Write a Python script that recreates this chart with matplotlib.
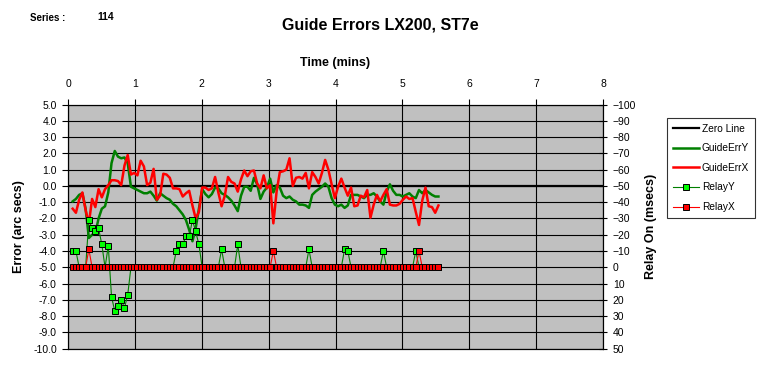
import numpy as np
import matplotlib
matplotlib.use('Agg')
from matplotlib import pyplot as plt

plt.rcParams['font.family'] = ['Liberation Sans', 'DejaVu Sans']

# sample clock (mins)
t_start = 0.07
t_step = 0.0484
n_samples = 114
t = t_start + t_step * np.arange(n_samples)

guide_err_y = [
    -0.95, -0.8, -0.55, -0.45, -1.4, -3.2, -3.0, -2.9, -2.0, -1.4,
    -1.25, -0.4, 1.4, 2.15, 1.8, 1.7, 1.75, 1.4, -0.05, -0.15,
    -0.25, -0.35, -0.45, -0.45, -0.35, -0.6, -0.9, -0.45, -0.6, -0.75,
    -0.85, -1.1, -1.25, -1.5, -1.75, -2.1, -2.7, -3.4, -2.6, -1.4,
    -0.2, -0.5, -0.7, -0.5, -0.1, -0.15, -0.45, -0.55, -0.7, -0.9,
    -1.2, -1.55, -0.6, -0.05, -0.05, -0.3, 0.5, 0.1, -0.8, -0.35,
    -0.1, 0.45, -0.4, 0.05, -0.1, -0.6, -0.75, -0.65, -0.85, -0.95,
    -1.15, -1.15, -1.2, -1.35, -0.55, -0.35, -0.2, -0.05, 0.15, -0.05,
    -0.75, -1.15, -1.25, -1.15, -1.35, -1.2, -0.55, -0.55, -0.55, -0.65,
    -0.75, -0.55, -0.55, -0.45, -0.65, -0.95, -1.15, -0.35, 0.1, -0.3,
    -0.55, -0.55, -0.65, -0.55, -0.45, -0.65, -0.75, -0.25, -0.45, -0.25,
    -0.4, -0.55, -0.65, -0.65,
]

guide_err_x = [
    -1.4, -1.65, -0.85, -0.4, -1.5, -2.3, -0.8, -1.3, -0.2, -0.7,
    -0.2, 0.05, 0.35, 0.35, 0.3, 0.05, 1.25, 1.9, 0.7, 0.8,
    0.65, 1.55, 1.2, 0.05, 0.2, 1.05, -0.85, -0.6, 0.75, 0.7,
    0.5, -0.15, -0.15, -0.2, -0.65, -0.45, -0.3, -1.2, -2.0, -1.6,
    -0.1, -0.1, -0.25, -0.15, 0.55, -0.4, -1.25, -0.6, 0.55, 0.25,
    0.15, -0.35, 0.4, 0.95, 0.6, 0.9, 0.95, 0.15, -0.15, 0.65,
    -0.15, 0.05, -2.3, -0.35, 0.85, 0.9, 1.0, 1.7, 0.0, 0.5,
    0.55, 0.45, 0.8, -0.15, 0.85, 0.55, 0.15, 0.8, 1.6, 1.0,
    0.1, -0.75, -0.05, 0.45, -0.1, -0.6, -0.1, -1.25, -1.2, -0.6,
    -0.7, -0.25, -1.95, -1.15, -0.55, -0.95, -0.55, -0.2, -1.15, -1.2,
    -1.2, -1.1, -0.85, -0.65, -0.8, -0.75, -1.6, -2.4, -0.9, -0.1,
    -1.25, -1.3, -1.65, -1.2,
]

relay_y = [0] * n_samples
for k, v in {0: -10, 1: -10, 5: -29, 6: -24, 7: -22, 8: -24, 9: -14,
             11: -13, 12: 18, 13: 27, 14: 24, 15: 20, 16: 25, 17: 17,
             32: -10, 33: -14, 34: -14, 35: -19, 36: -19, 37: -29,
             38: -22, 39: -14, 46: -11, 51: -14, 73: -11, 84: -11,
             85: -10, 96: -10, 106: -10}.items():
    relay_y[k] = v

relay_x = [0] * n_samples
for k, v in {5: -11, 62: -10, 107: -10}.items():
    relay_x[k] = v

time_ticks = list(range(0, 9))
err_ticks = list(range(-10, 6))
relay_ticks = list(range(-100, 51, 10))

fig = plt.figure(figsize=(7.61, 3.69), dpi=100)
ax = fig.add_axes([68 / 761, 20.4 / 369, 535 / 761, 244 / 369])
ax.set_facecolor('#C0C0C0')

ax.axhline(0, color='black', lw=1.6, label='Zero Line', zorder=3)
ax.plot(t, guide_err_y, color='#008000', lw=1.8, label='GuideErrY', zorder=4)
ax.plot(t, guide_err_x, color='#FF0000', lw=1.8, label='GuideErrX', zorder=5)

ax.set_xlim(0, 8)
ax.set_ylim(-10, 5)
ax.set_xticks(time_ticks)
ax.set_yticks(err_ticks)
ax.set_yticklabels([f'{v:.1f}' for v in err_ticks])
ax.xaxis.tick_top()
ax.xaxis.set_label_position('top')
ax.grid(True, color='black', lw=0.8)
ax.set_axisbelow(True)
ax.tick_params(axis='x', direction='out', length=4, pad=7, labelsize=7.5)
ax.tick_params(axis='y', direction='out', length=4, pad=4, labelsize=7.5)
for s in ax.spines.values():
    s.set_linewidth(0.8)

ax.set_xlabel('Time (mins)', fontsize=9, fontweight='bold')
ax.xaxis.set_label_coords(0.5, 1.159)
ax.set_ylabel('Error (arc secs)', fontsize=9, fontweight='bold')
ax.yaxis.set_label_coords(-0.08, 0.5)

ax2 = ax.twinx()
ax2.plot(t, relay_y, color='#008000', lw=0.8, marker='s', ms=3.8,
         mfc='#00FF00', mec='black', mew=0.7, label='RelayY')
ax2.plot(t, relay_x, color='#FF0000', lw=0.8, marker='s', ms=3.8,
         mfc='#FF0000', mec='black', mew=0.7, label='RelayX')
ax2.set_ylim(50, -100)
ax2.set_yticks(relay_ticks)
ax2.tick_params(axis='y', direction='inout', length=6, pad=4, labelsize=7.5)
ax2.set_ylabel('Relay On (msecs)', fontsize=9, fontweight='bold')
ax2.yaxis.set_label_coords(1.078, 0.5)

h1, l1 = ax.get_legend_handles_labels()
h2, l2 = ax2.get_legend_handles_labels()
leg = fig.legend(h1 + h2, l1 + l2, loc='upper left',
                 bbox_to_anchor=(667 / 761, 1 - 118 / 369),
                 fontsize=7.3, frameon=True, fancybox=False, edgecolor='black',
                 handlelength=2.6, handletextpad=0.3, labelspacing=0.95,
                 borderpad=0.55, borderaxespad=0)
leg.get_frame().set_linewidth(0.8)

fig.text(380 / 761, 1 - 25 / 369, 'Guide Errors LX200, ST7e',
         ha='center', va='center', fontsize=11.5, fontweight='bold')
fig.text(30 / 761, 1 - 18 / 369, 'Series :', ha='left', va='center',
         fontsize=7, fontweight='bold')
fig.text(97 / 761, 1 - 17 / 369, '114', ha='left', va='center',
         fontsize=7.5, fontweight='bold')

fig.savefig('out.png', dpi=100)
